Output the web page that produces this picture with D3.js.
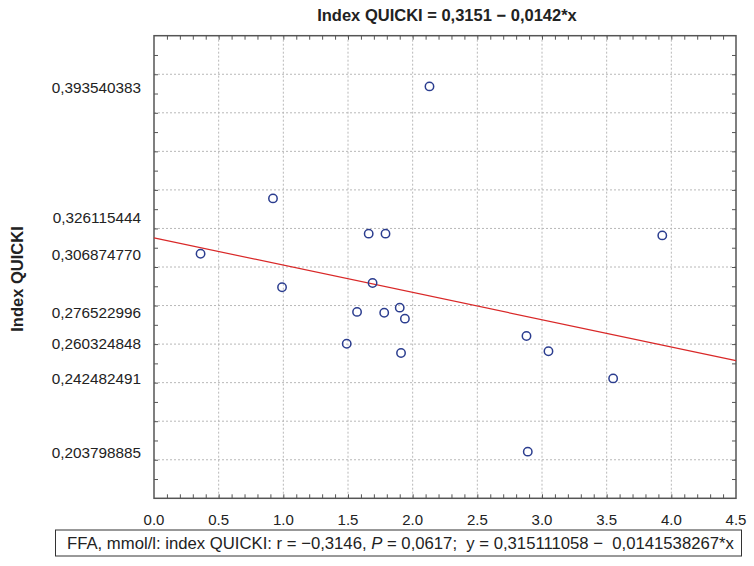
<!DOCTYPE html>
<html>
<head>
<meta charset="utf-8">
<script src="https://cdn.jsdelivr.net/npm/d3@7"></script>
<style>
  body { margin: 0; background: #fff; }
  text { font-family: "Liberation Sans", Arial, sans-serif; fill: #222; }
</style>
</head>
<body>
<div id="chart"></div>
<script>
const width = 754
const height = 566

// data
const ffa = [2.13, 0.92, 0.36, 1.66, 1.79, 0.99, 1.69, 3.93, 1.57, 1.78, 1.90, 1.94, 1.49, 1.91, 2.88, 3.05, 3.55, 2.89]
const quicki = [0.3937, 0.3356, 0.3069, 0.3173, 0.3173, 0.2895, 0.2917, 0.3164, 0.2767, 0.2763, 0.2789, 0.2732, 0.2602, 0.2554, 0.2642, 0.2563, 0.2422, 0.2042]
const intercept = 0.315111058
const slope = -0.0141538267
const xTicks = [0, 0.5, 1, 1.5, 2, 2.5, 3, 3.5, 4, 4.5]
const yGrid = [0.20, 0.22, 0.24, 0.26, 0.28, 0.30, 0.32, 0.34, 0.36, 0.38, 0.40]
const yLabels = [0.393540383, 0.326115444, 0.306874770, 0.276522996, 0.260324848, 0.242482491, 0.203798885]

const m = { left: 154, right: 736, top: 35.7, bottom: 498.3 }

const x = d3.scaleLinear().domain([0, 4.5]).range([m.left, m.right])
const y = d3.scaleLinear().domain([0.18, 0.42]).range([m.bottom, m.top])

const svg = d3.select("#chart")
  .append("svg")
  .attr("width", width)
  .attr("height", height)

// dotted grid
svg.append("g")
  .selectAll("line")
  .data(xTicks.slice(1, -1))
  .join("line")
  .attr("x1", d => x(d)).attr("x2", d => x(d))
  .attr("y1", m.top).attr("y2", m.bottom)
  .attr("stroke", "#b8b8b8").attr("stroke-dasharray", "2,2")

svg.append("g")
  .selectAll("line")
  .data(yGrid)
  .join("line")
  .attr("x1", m.left).attr("x2", m.right)
  .attr("y1", d => y(d)).attr("y2", d => y(d))
  .attr("stroke", "#b8b8b8").attr("stroke-dasharray", "2,2")

// inward ticks on all four sides
const minorX = d3.range(1, 45).map(i => i / 10)
const minorY = d3.range(19, 42).map(i => i / 100)
const tk = 4

function tickAxis(axis, tr) {
  const g = svg.append("g").attr("transform", tr).call(axis)
  g.select(".domain").remove()
  g.selectAll(".tick line").attr("stroke", "#555")
  g.selectAll("text").remove()
}
tickAxis(d3.axisBottom(x).tickValues(minorX).tickSize(-tk), `translate(0,${m.bottom})`)
tickAxis(d3.axisTop(x).tickValues(minorX).tickSize(-tk), `translate(0,${m.top})`)
tickAxis(d3.axisLeft(y).tickValues(minorY).tickSize(-tk), `translate(${m.left},0)`)
tickAxis(d3.axisRight(y).tickValues(minorY).tickSize(-tk), `translate(${m.right},0)`)

// frame
svg.append("rect")
  .attr("x", m.left).attr("y", m.top)
  .attr("width", m.right - m.left).attr("height", m.bottom - m.top)
  .attr("fill", "none").attr("stroke", "#555").attr("stroke-width", 1.5)

// x tick labels
svg.append("g")
  .selectAll("text")
  .data(xTicks)
  .join("text")
  .attr("x", d => x(d))
  .attr("y", 525)
  .attr("text-anchor", "middle")
  .attr("font-size", 15)
  .text(d => d.toFixed(1))

// y tick labels at the odd positions
svg.append("g")
  .selectAll("text")
  .data(yLabels)
  .join("text")
  .attr("x", 141)
  .attr("y", d => y(d) + 6)
  .attr("text-anchor", "end")
  .attr("font-size", 15.3)
  .text(d => d.toFixed(9).replace(".", ","))

// regression line
svg.append("line")
  .attr("x1", x(0)).attr("y1", y(intercept))
  .attr("x2", x(4.5)).attr("y2", y(intercept + slope * 4.5))
  .attr("stroke", "#d92828").attr("stroke-width", 1.2)

// points
svg.append("g")
  .selectAll("circle")
  .data(ffa.map((d, i) => [d, quicki[i]]))
  .join("circle")
  .attr("cx", d => x(d[0]))
  .attr("cy", d => y(d[1]))
  .attr("r", 4.2)
  .attr("fill", "none")
  .attr("stroke", "#2b3d8f")
  .attr("stroke-width", 1.5)

// title
svg.append("text")
  .attr("x", 447).attr("y", 21)
  .attr("text-anchor", "middle")
  .attr("font-size", 16.5).attr("font-weight", "bold")
  .text("Index QUICKI = 0,3151 \u2212 0,0142*x")

svg.append("text")
  .attr("transform", "translate(23,279) rotate(-90)")
  .attr("text-anchor", "middle")
  .attr("font-size", 16.5).attr("font-weight", "bold")
  .text("Index QUICKI")

// stats box
svg.append("rect")
  .attr("x", 55.5).attr("y", 530)
  .attr("width", 686).attr("height", 26)
  .attr("fill", "#fff").attr("stroke", "#333")

const st = svg.append("text")
  .attr("x", 67).attr("y", 549)
  .attr("font-size", 16.7)
st.append("tspan").text("FFA, mmol/l: index QUICKI: r = \u22120,3146, ")
st.append("tspan").attr("font-style", "italic").text("P")
st.append("tspan").text(" = 0,0617;\u00a0 y = 0,315111058 \u2212\u00a0 0,0141538267*x")
</script>
</body>
</html>
